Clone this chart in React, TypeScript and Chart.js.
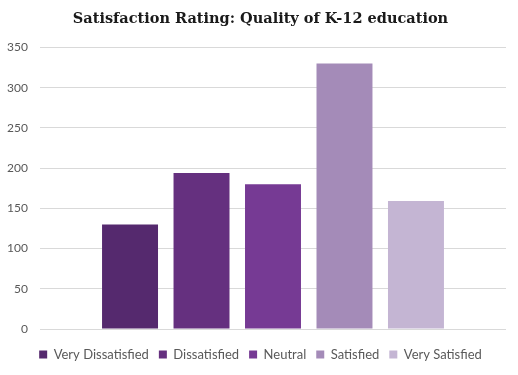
import React, { useEffect, useRef } from "react";
import { Chart, registerables } from "chart.js";

Chart.register(...registerables);

const categories = [""];
const seriesNames = ["Very Dissatisfied", "Dissatisfied", "Neutral", "Satisfied", "Very Satisfied"];
const seriesValues = [130, 194, 180, 330, 159];
const seriesColors = ["#55296E", "#65307F", "#763A94", "#A48BB8", "#C4B5D3"];
const titleText = "Satisfaction Rating: Quality of K-12 education";

export default function App() {
  const ref = useRef<HTMLCanvasElement | null>(null);
  useEffect(() => {
    document.body.style.margin = "0";
    const chart = new Chart(ref.current as HTMLCanvasElement, {
      type: "bar",
      data: {
        labels: categories,
        datasets: seriesNames.map((name, i) => ({
          label: name,
          data: [seriesValues[i]],
          backgroundColor: seriesColors[i],
          borderWidth: 0,
        })),
      },
      options: {
        responsive: false,
        animation: false,
        devicePixelRatio: 1,
        categoryPercentage: 0.767,
        barPercentage: 0.783,
        layout: { padding: { left: 7, right: 4, top: 2, bottom: 4 } },
        plugins: {
          title: {
            display: true,
            text: titleText,
            color: "#1a1a1a",
            font: { family: "DejaVu Serif", size: 14.5, weight: "bold" },
            padding: { top: 9, bottom: 19 },
          },
          legend: {
            position: "bottom",
            labels: {
              boxWidth: 8,
              boxHeight: 8,
              color: "#595959",
              font: { family: "Lato", size: 13 },
              padding: 10,
            },
          },
          tooltip: { enabled: false },
        },
        scales: {
          x: {
            display: true,
            grid: { display: false, drawTicks: false },
            border: { display: false },
            ticks: { display: false },
            afterFit: (axis: any) => {
              axis.height = axis.height + 9;
            },
          },
          y: {
            min: 0,
            max: 350,
            ticks: {
              stepSize: 50,
              color: "#595959",
              font: { family: "Lato", size: 12 },
              padding: 12,
            },
            grid: { color: "#d9d9d9", drawTicks: false },
            border: { display: false },
            afterFit: (axis: any) => {
              axis.width = 33;
            },
          },
          yRight: {
            position: "right",
            display: true,
            grid: { display: false, drawTicks: false },
            border: { display: false },
            ticks: { display: false },
            afterFit: (axis: any) => {
              axis.width = 8;
            },
          },
        },
      },
    });
    return () => chart.destroy();
  }, []);
  return (
    <div style={{ position: "absolute", left: 0, top: 0, width: 518, height: 375 }}>
      <canvas ref={ref} width={518} height={375} />
    </div>
  );
}
